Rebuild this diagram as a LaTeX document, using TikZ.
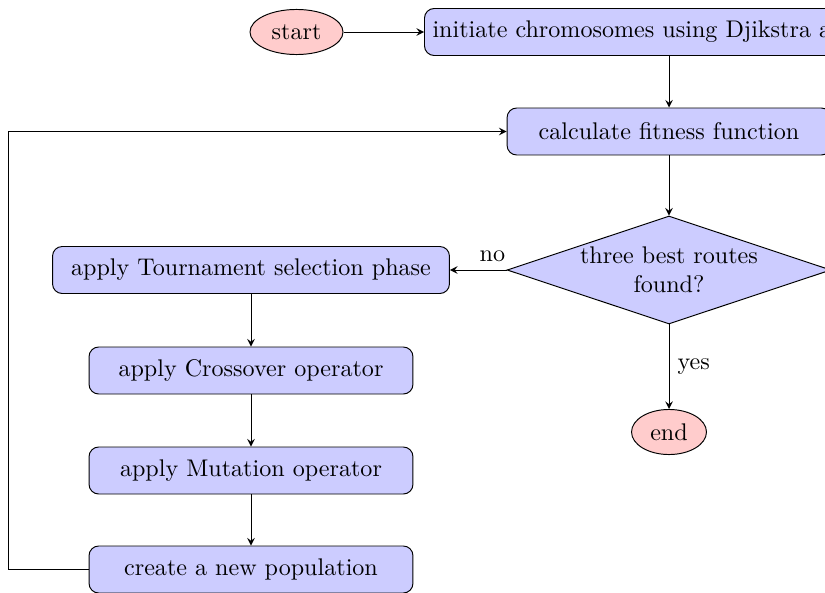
\documentclass[tikz,border=0pt]{standalone}
\usetikzlibrary{shapes.geometric,arrows.meta}
\begin{document}
\tikzset{
  proc/.style={rectangle, rounded corners=4pt, draw, fill=blue!20,
    minimum width=134.4pt, minimum height=19.5pt, align=center},
  term/.style={ellipse, draw, fill=red!20, minimum height=18.7pt, inner sep=0pt},
  decision/.style={diamond, draw, fill=blue!20, aspect=3, inner sep=0pt, align=center,
    minimum width=134.4pt, minimum height=44.8pt},
  arr/.style={-stealth},
}
\begin{tikzpicture}[x=0.41494pt, y=-0.41494pt]
  \useasboundingbox (0,0) rectangle (825,592);
  \clip (0,0) rectangle (825,592);

  % main column
  \node[term, minimum width=38.6pt] (start) at (296.5,32) {start};
  \node[proc, anchor=west] (init) at (424,32) {initiate chromosomes using Djikstra algorithm};
  \node[proc] (calc) at (669,131.5) {calculate fitness function};
  \node[decision] (dec) at (669,270) {three best routes\\found?};
  \node[term, minimum width=31.1pt] (stop) at (669,432) {end};

  % genetic operators column
  \node[proc, minimum width=164.7pt] (tour) at (251,270) {apply Tournament selection phase};
  \node[proc] (cross) at (251,370.5) {apply Crossover operator};
  \node[proc] (mut) at (251,470.5) {apply Mutation operator};
  \node[proc] (newpop) at (251,569.5) {create a new population};

  \coordinate (loopx) at (8,0);

  % connectors
  \draw[arr] (start) -- (init);
  \draw[arr] (init.south -| calc.north) -- (calc.north);
  \draw[arr] (calc) -- (dec);
  \draw[arr] (dec) -- node[right, pos=0.5] {yes} (stop);
  \draw[arr] (dec) -- node[above, pos=0.25] {no} (tour);
  \draw[arr] (tour) -- (cross);
  \draw[arr] (cross) -- (mut);
  \draw[arr] (mut) -- (newpop);
  \draw[arr] (newpop.west) -- (newpop.west -| loopx) |- (calc.west);
\end{tikzpicture}
\end{document}
